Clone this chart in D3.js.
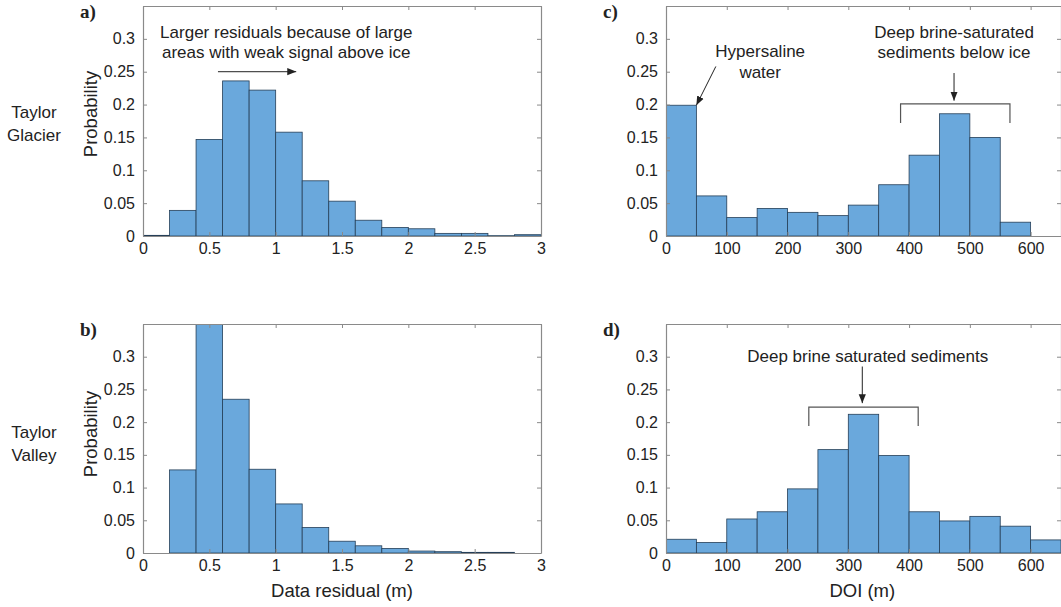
<!DOCTYPE html>
<html>
<head>
<meta charset="utf-8">
<script src="https://d3js.org/d3.v7.min.js"></script>
<style>
  body { margin: 0; background: #fff; }
  text { font-family: "Liberation Sans", Arial, sans-serif; fill: #222; }
  text.plabel { font-family: "Liberation Serif", "Times New Roman", serif; font-weight: bold; }
</style>
</head>
<body>
<script>
    // bin edges
    const residualEdges = d3.range(0, 3.0001, 0.2);
    const doiEdges = d3.range(0, 651, 50);

    // probabilities
    const glacierResidual = [0.001, 0.039, 0.147, 0.236, 0.222, 0.158, 0.084, 0.053, 0.024, 0.013, 0.011, 0.004, 0.004, 0.0005, 0.002];
    const valleyResidual = [0, 0.127, 0.36, 0.235, 0.128, 0.075, 0.039, 0.018, 0.011, 0.007, 0.003, 0.002, 0.001, 0.001, 0];
    const glacierDOI = [0.199, 0.061, 0.028, 0.042, 0.036, 0.031, 0.047, 0.078, 0.123, 0.186, 0.150, 0.021, 0];
    const valleyDOI = [0.021, 0.016, 0.052, 0.063, 0.098, 0.158, 0.212, 0.149, 0.063, 0.049, 0.056, 0.041, 0.020];

    const residualTicks = [0, 0.5, 1, 1.5, 2, 2.5, 3];
    const doiTicks = [0, 100, 200, 300, 400, 500, 600];
    const probTicks = [0, 0.05, 0.1, 0.15, 0.2, 0.25, 0.3];

    const w = 1061;
    const h = 607;
    const svg = d3.select('body').append('svg').attr('width', w).attr('height', h);

    const defs = svg.append('defs');
    defs.append('marker')
        .attr('id', 'head')
        .attr('viewBox', '0 0 10 10')
        .attr('refX', 10).attr('refY', 5)
        .attr('markerWidth', 9).attr('markerHeight', 9)
        .attr('markerUnits', 'userSpaceOnUse')
        .attr('orient', 'auto')
        .append('path').attr('d', 'M0,1 L10,5 L0,9 Z').attr('fill', '#222');

    function panel(opts) {
        const x = d3.scaleLinear().domain(opts.xDomain).range([opts.left, opts.right]);
        const y = d3.scaleLinear().domain([0, 0.35]).range([opts.bottom, opts.top]);
        const g = svg.append('g');
        const clipId = 'clip' + opts.label;
        defs.append('clipPath').attr('id', clipId)
            .append('rect')
            .attr('x', opts.left).attr('y', opts.top)
            .attr('width', opts.right - opts.left).attr('height', opts.bottom - opts.top);

        const bins = opts.values.map((v, i) => ({x0: opts.edges[i], x1: opts.edges[i + 1], v: v}));
        g.append('g').attr('clip-path', 'url(#' + clipId + ')')
            .selectAll('rect')
            .data(bins.filter(d => d.v > 0))
            .join('rect')
            .attr('x', d => x(d.x0))
            .attr('width', d => x(d.x1) - x(d.x0))
            .attr('y', d => y(d.v))
            .attr('height', d => y(0) - y(d.v))
            .attr('fill', '#6aa8dc')
            .attr('stroke', '#253f58')
            .attr('stroke-width', 0.8);

        // axes, MATLAB style: ticks inside, box all round
        const tl = 4;
        const axB = g.append('g').attr('transform', `translate(0,${opts.bottom})`)
            .call(d3.axisBottom(x).tickValues(opts.xTicks).tickSizeInner(-tl).tickSizeOuter(0).tickPadding(7).tickFormat(d3.format('~g')));
        const axT = g.append('g').attr('transform', `translate(0,${opts.top})`)
            .call(d3.axisTop(x).tickValues(opts.xTicks).tickSizeInner(-tl).tickSizeOuter(0).tickFormat(''));
        const axL = g.append('g').attr('transform', `translate(${opts.left},0)`)
            .call(d3.axisLeft(y).tickValues(probTicks).tickSizeInner(-tl).tickSizeOuter(0).tickPadding(8).tickFormat(d3.format('~g')));
        const axR = g.append('g').attr('transform', `translate(${opts.right},0)`)
            .call(d3.axisRight(y).tickValues(probTicks).tickSizeInner(-tl).tickSizeOuter(0).tickFormat(''));
        [axB, axT, axL, axR].forEach(a => {
            a.select('.domain').attr('stroke', '#8a8a8a').attr('stroke-width', 1.2);
            a.selectAll('.tick line').attr('stroke', '#8a8a8a');
            a.selectAll('.tick text').attr('font-size', '16px').attr('fill', '#222');
        });

        svg.append('text')
            .attr('class', 'plabel')
            .attr('x', opts.left - 63).attr('y', opts.top + 12)
            .attr('font-size', '19px')
            .text(opts.label + ')');

        return {x, y, g};
    }

    function note(p, lines, cx, yVals) {
        lines.forEach((t, i) => {
            svg.append('text')
                .attr('x', p.x(cx)).attr('y', p.y(yVals[i]))
                .attr('text-anchor', 'middle').attr('font-size', '17px')
                .text(t);
        });
    }

    function arrow(p, x1, y1, x2, y2) {
        svg.append('line')
            .attr('x1', p.x(x1)).attr('y1', p.y(y1))
            .attr('x2', p.x(x2)).attr('y2', p.y(y2))
            .attr('stroke', '#222').attr('stroke-width', 1)
            .attr('marker-end', 'url(#head)');
    }

    function bracket(p, x0, x1, yTop, yEnd) {
        svg.append('path')
            .attr('d', `M${p.x(x0)},${p.y(yEnd)} V${p.y(yTop)} H${p.x(x1)} V${p.y(yEnd)}`)
            .attr('fill', 'none').attr('stroke', '#555').attr('stroke-width', 1.2);
    }

    const pa = panel({label: 'a', left: 143, right: 541, top: 6, bottom: 236,
        xDomain: [0, 3], edges: residualEdges, values: glacierResidual, xTicks: residualTicks});
    const pb = panel({label: 'b', left: 143, right: 541, top: 324, bottom: 553,
        xDomain: [0, 3], edges: residualEdges, values: valleyResidual, xTicks: residualTicks});
    const pc = panel({label: 'c', left: 666, right: 1061, top: 6, bottom: 236,
        xDomain: [0, 650], edges: doiEdges, values: glacierDOI, xTicks: doiTicks});
    const pd = panel({label: 'd', left: 666, right: 1061, top: 324, bottom: 553,
        xDomain: [0, 650], edges: doiEdges, values: valleyDOI, xTicks: doiTicks});

    // axis titles
    [[pa, 114], [pb, 434]].forEach(([p, cy]) => {
        svg.append('text')
            .attr('transform', `translate(97,${cy}) rotate(-90)`)
            .attr('text-anchor', 'middle').attr('font-size', '18.5px')
            .text('Probability');
    });
    svg.append('text').attr('x', pb.x(1.5)).attr('y', 597)
        .attr('text-anchor', 'middle').attr('font-size', '18.5px').text('Data residual (m)');
    svg.append('text').attr('x', pd.x(323)).attr('y', 597)
        .attr('text-anchor', 'middle').attr('font-size', '18.5px').text('DOI (m)');

    // row labels
    [['Taylor', 118], ['Glacier', 141], ['Taylor', 438], ['Valley', 461]].forEach(([t, yy]) => {
        svg.append('text').attr('x', 34).attr('y', yy)
            .attr('text-anchor', 'middle').attr('font-size', '17px').text(t);
    });

    // annotations
    note(pa, ['Larger residuals because of large', 'areas with weak signal above ice'], 1.08, [0.302, 0.271]);
    arrow(pa, 0.565, 0.25, 1.155, 0.25);

    note(pc, ['Hypersaline', 'water'], 155, [0.273, 0.240]);
    arrow(pc, 82, 0.258, 50, 0.199);
    note(pc, ['Deep brine-saturated', 'sediments below ice'], 474, [0.302, 0.271]);
    arrow(pc, 474, 0.248, 474, 0.206);
    bracket(pc, 386, 566, 0.201, 0.172);

    note(pd, ['Deep brine saturated sediments'], 332, [0.292]);
    arrow(pd, 323, 0.285, 323, 0.229);
    bracket(pd, 235, 415, 0.223, 0.194);
</script>
</body>
</html>
